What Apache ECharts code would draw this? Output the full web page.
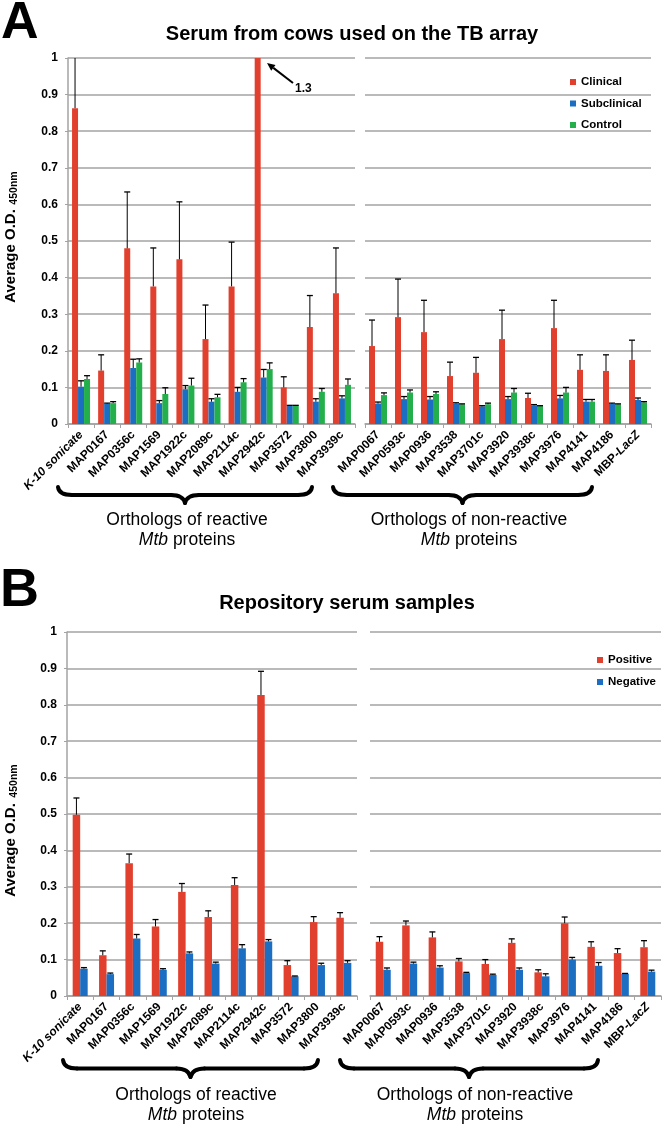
<!DOCTYPE html>
<html><head><meta charset="utf-8">
<script src="https://cdn.jsdelivr.net/npm/echarts@6/dist/echarts.min.js"></script>
<style>html,body{margin:0;padding:0;background:#fff}#c{width:663px;height:1125px}</style>
</head><body><div id="c"></div>
<script>
// ---------- data ----------
const catsLeft = ['K-10 sonicate','MAP0167','MAP0356c','MAP1569','MAP1922c','MAP2089c','MAP2114c','MAP2942c','MAP3572','MAP3800','MAP3939c'];
const catsRight = ['MAP0067','MAP0593c','MAP0936','MAP3538','MAP3701c','MAP3920','MAP3938c','MAP3976','MAP4141','MAP4186','MBP-LacZ'];
const yTickLabels = ['0','0.1','0.2','0.3','0.4','0.5','0.6','0.7','0.8','0.9','1'];

// Panel A - Serum from cows used on the TB array
const aClinicalLeft      = [0.863,0.146,0.480,0.376,0.450,0.232,0.376,1.3,0.100,0.265,0.357];
const aClinicalLeftErr   = [0.300,0.043,0.154,0.105,0.157,0.093,0.121,0.200,0.029,0.086,0.124];
const aSubLeft           = [0.102,0.055,0.153,0.057,0.095,0.061,0.088,0.127,0.050,0.061,0.070];
const aSubLeftErr        = [0.016,0.002,0.024,0.007,0.010,0.008,0.012,0.022,0.001,0.008,0.007];
const aControlLeft       = [0.123,0.057,0.168,0.082,0.105,0.073,0.114,0.150,0.050,0.088,0.107];
const aControlLeftErr    = [0.009,0.004,0.010,0.017,0.020,0.008,0.010,0.017,0.001,0.009,0.016];
const aClinicalRight     = [0.213,0.292,0.251,0.131,0.140,0.232,0.071,0.262,0.148,0.145,0.175];
const aClinicalRightErr  = [0.071,0.104,0.087,0.038,0.042,0.079,0.013,0.076,0.041,0.044,0.054];
const aSubRight          = [0.056,0.068,0.067,0.056,0.048,0.068,0.051,0.070,0.061,0.055,0.066];
const aSubRightErr       = [0.004,0.007,0.008,0.002,0.002,0.007,0.002,0.008,0.006,0.002,0.005];
const aControlRight      = [0.079,0.086,0.082,0.054,0.054,0.086,0.049,0.086,0.061,0.054,0.059];
const aControlRightErr   = [0.006,0.007,0.006,0.001,0.003,0.011,0.001,0.014,0.006,0.001,0.002];

// Panel B - Repository serum samples
const bPositiveLeft      = [0.498,0.112,0.365,0.191,0.286,0.217,0.305,0.827,0.085,0.203,0.215];
const bPositiveLeftErr   = [0.046,0.012,0.025,0.019,0.023,0.017,0.020,0.065,0.012,0.015,0.014];
const bNegativeLeft      = [0.075,0.060,0.158,0.072,0.117,0.089,0.131,0.150,0.054,0.085,0.091];
const bNegativeLeftErr   = [0.003,0.003,0.011,0.003,0.004,0.004,0.010,0.005,0.001,0.005,0.006];
const bPositiveRight     = [0.149,0.194,0.161,0.095,0.088,0.146,0.065,0.200,0.135,0.118,0.134];
const bPositiveRightErr  = [0.014,0.012,0.015,0.008,0.012,0.011,0.007,0.017,0.014,0.012,0.018];
const bNegativeRight     = [0.072,0.089,0.078,0.063,0.058,0.072,0.054,0.100,0.083,0.061,0.067];
const bNegativeRightErr  = [0.005,0.004,0.005,0.002,0.002,0.005,0.007,0.006,0.009,0.001,0.004];

// ---------- style ----------
const FONT = '"Liberation Sans", Arial, Helvetica, sans-serif';
const RED = '#e2402f', BLUE = '#1b6ec2', GREEN = '#23b04c';
const GRID_C = '#a3a3a3';

const grids = [
  {left:68, top:58, width:287, height:366},
  {left:365, top:58, width:286, height:366},
  {left:67, top:632, width:290, height:364},
  {left:370, top:632, width:291, height:364}
];

function catFmt(v){
  if (v === 'K-10 sonicate') return '{it|K-10 sonicate}';
  if (v === 'MBP-LacZ') return '{b|MBP-}{it|LacZ}';
  return v;
}
function xAx(gi, cats){
  return {
    type:'category', gridIndex:gi, data:cats,
    axisLine:{show:true, lineStyle:{color:GRID_C, width:1.5}},
    axisTick:{show:true, length:4, lineStyle:{color:GRID_C, width:1}},
    axisLabel:{interval:0, rotate:45, margin:9, color:'#000', fontFamily:FONT, fontWeight:'bold', fontSize:12,
      formatter:catFmt,
      rich:{
        it:{fontStyle:'italic', fontWeight:'bold', fontSize:12, fontFamily:FONT, color:'#000'},
        b:{fontWeight:'bold', fontSize:12, fontFamily:FONT, color:'#000'}
      }},
    splitLine:{show:false}
  };
}
function yAx(gi, showAxis){
  return {
    type:'value', gridIndex:gi, min:0, max:1, interval:0.1,
    axisLine:{show:showAxis, lineStyle:{color:GRID_C, width:1.5}},
    axisTick:{show:showAxis, length:3, lineStyle:{color:GRID_C}},
    axisLabel:{show:showAxis, margin:10, color:'#000', fontFamily:FONT, fontWeight:'bold', fontSize:12,
      formatter: v => yTickLabels[Math.round(v*10)]},
    splitLine:{show:true, lineStyle:{color:GRID_C, width:1.5}}
  };
}

function errRender(off){
  return function(params, api){
    const i = api.value(0), v = api.value(1), e = api.value(2);
    const cs = params.coordSys;
    const p0 = api.coord([i, v]);
    const p1 = api.coord([i, v + e]);
    if (p0[1] <= cs.y + 0.5) return null;
    const x = p0[0] + off;
    const yTop = Math.max(p1[1], cs.y);
    const ch = [{type:'line', shape:{x1:x, y1:p0[1], x2:x, y2:yTop}, style:{stroke:'#000', lineWidth:1}}];
    if (p1[1] >= cs.y) ch.push({type:'line', shape:{x1:x-3, y1:yTop, x2:x+3, y2:yTop}, style:{stroke:'#000', lineWidth:1.3}});
    return {type:'group', children:ch};
  };
}

const series = [];
function addGroup(gi, groups, bw){
  const n = groups.length;
  groups.forEach((g) => {
    series.push({type:'bar', name:g.name, xAxisIndex:gi, yAxisIndex:gi, data:g.vals,
      barWidth:bw, barGap:'0%', itemStyle:{color:g.color}, z:2, clip:true, silent:true});
  });
  groups.forEach((g, k) => {
    const off = (k - (n-1)/2) * bw;
    series.push({type:'custom', xAxisIndex:gi, yAxisIndex:gi, silent:true, z:3,
      data:g.vals.map((v,i) => [i, v, g.err[i]]),
      encode:{x:0, y:1}, renderItem:errRender(off)});
  });
}
addGroup(0, [
  {name:'Clinical', vals:aClinicalLeft, err:aClinicalLeftErr, color:RED},
  {name:'Subclinical', vals:aSubLeft, err:aSubLeftErr, color:BLUE},
  {name:'Control', vals:aControlLeft, err:aControlLeftErr, color:GREEN}], 6);
addGroup(1, [
  {name:'Clinical', vals:aClinicalRight, err:aClinicalRightErr, color:RED},
  {name:'Subclinical', vals:aSubRight, err:aSubRightErr, color:BLUE},
  {name:'Control', vals:aControlRight, err:aControlRightErr, color:GREEN}], 6);
addGroup(2, [
  {name:'Positive', vals:bPositiveLeft, err:bPositiveLeftErr, color:RED},
  {name:'Negative', vals:bNegativeLeft, err:bNegativeLeftErr, color:BLUE}], 7.5);
addGroup(3, [
  {name:'Positive', vals:bPositiveRight, err:bPositiveRightErr, color:RED},
  {name:'Negative', vals:bNegativeRight, err:bNegativeRightErr, color:BLUE}], 7.5);

// ---------- annotations ----------
function braceEl(x0, x1, y0, h){
  const m = (x0 + x1) / 2, ym = y0 + h * 0.5, yt = y0 + h;
  const st = {stroke:'#000', lineWidth:4, fill:null, lineCap:'round'};
  const q = (a, b, c, d, cx, cy) => ({type:'bezierCurve', shape:{x1:a, y1:b, x2:c, y2:d, cpx1:cx, cpy1:cy}, style:st, silent:true});
  const ln = (a, b, c, d) => ({type:'line', shape:{x1:a, y1:b, x2:c, y2:d}, style:st, silent:true});
  return {type:'group', silent:true, children:[
    q(x0, y0, x0+14, ym, x0+1, ym),
    ln(x0+14, ym, m-14, ym),
    q(m-14, ym, m, yt, m-2, ym),
    q(m, yt, m+14, ym, m+2, ym),
    ln(m+14, ym, x1-14, ym),
    q(x1-14, ym, x1, y0, x1-1, ym)
  ]};
}
function groupText(x, y, l1){
  return {type:'text', x:x, y:y, silent:true, style:{
    text:'{n|' + l1 + '}\n{i|Mtb}{n| proteins}',
    align:'center', verticalAlign:'middle',
    rich:{
      n:{fontSize:17.5, fontFamily:FONT, fill:'#000', color:'#000', lineHeight:20},
      i:{fontSize:17.5, fontFamily:FONT, fontStyle:'italic', fill:'#000', color:'#000', lineHeight:20}
    }}};
}
function txt(x, y, text, size, weight, align){
  return {type:'text', x:x, y:y, silent:true, style:{text:text, fontSize:size, fontWeight:weight, fontFamily:FONT, fill:'#000', align:align||'center', verticalAlign:'middle'}};
}
function yName(xc, yMain, ySub){
  return [
    {type:'text', x:xc, y:yMain, rotation:Math.PI/2, silent:true, style:{text:'Average O.D.', fontSize:15, fontWeight:'bold', fontFamily:FONT, fill:'#000', align:'center', verticalAlign:'middle'}},
    {type:'text', x:xc+3, y:ySub, rotation:Math.PI/2, silent:true, style:{text:'450nm', fontSize:10.5, fontWeight:'bold', fontFamily:FONT, fill:'#000', align:'center', verticalAlign:'middle'}}
  ];
}
// arrow for clipped value
const tip = [267, 63], tail = [293, 83];
const dx = tip[0]-tail[0], dy = tip[1]-tail[1], L = Math.hypot(dx, dy), ux = dx/L, uy = dy/L;
const hb = [tip[0]-ux*8, tip[1]-uy*8];
const arrowHead = [[tip[0], tip[1]], [hb[0]-uy*3.5, hb[1]+ux*3.5], [hb[0]+uy*3.5, hb[1]-ux*3.5]];

const graphics = [
  txt(1, 24, 'A', 52, 'bold', 'left'),
  txt(352, 34, 'Serum from cows used on the TB array', 20, 'bold'),
  txt(0, 591, 'B', 54, 'bold', 'left'),
  txt(347, 603, 'Repository serum samples', 20, 'bold'),
  ...yName(11, 256, 188),
  ...yName(11, 850, 781),
  braceEl(58, 312, 487, 16),
  braceEl(333, 592, 487, 16),
  braceEl(63, 318, 1060, 17),
  braceEl(340, 598, 1060, 17),
  groupText(187, 530, 'Orthologs of reactive'),
  groupText(469, 530, 'Orthologs of non-reactive'),
  groupText(196, 1105, 'Orthologs of reactive'),
  groupText(475, 1105, 'Orthologs of non-reactive'),
  {type:'line', shape:{x1:tail[0], y1:tail[1], x2:hb[0], y2:hb[1]}, style:{stroke:'#000', lineWidth:2}, silent:true},
  {type:'polygon', shape:{points:arrowHead}, style:{fill:'#000'}, silent:true},
  txt(295, 89, '1.3', 12, 'bold', 'left')
];

const legendBase = {orient:'vertical', icon:'rect', itemWidth:6, itemHeight:6, selectedMode:false,
  textStyle:{fontSize:11.5, fontWeight:'bold', fontFamily:FONT, color:'#000'}};

const chart = echarts.init(document.getElementById('c'));
chart.setOption({
  animation:false,
  backgroundColor:'#fff',
  grid:grids,
  xAxis:[xAx(0, catsLeft), xAx(1, catsRight), xAx(2, catsLeft), xAx(3, catsRight)],
  yAxis:[yAx(0, true), yAx(1, false), yAx(2, true), yAx(3, false)],
  legend:[
    Object.assign({}, legendBase, {data:['Clinical','Subclinical','Control'], left:565, top:71, itemGap:9.5}),
    Object.assign({}, legendBase, {data:['Positive','Negative'], left:592, top:649, itemGap:10})
  ],
  series:series,
  graphic:graphics
});
</script></body></html>
